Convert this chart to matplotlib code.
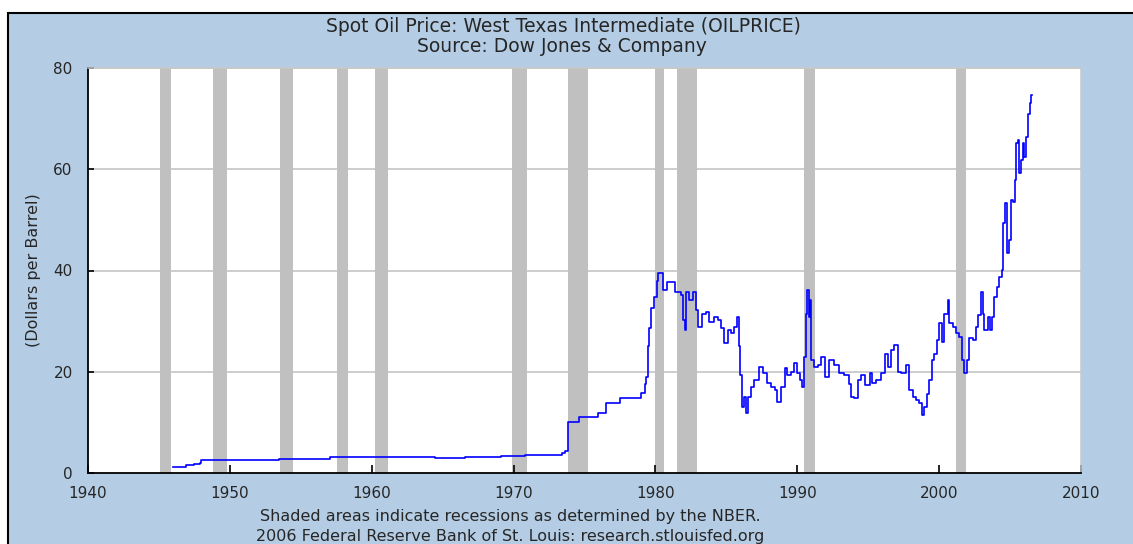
import matplotlib
matplotlib.use("Agg")
import matplotlib.pyplot as plt
from matplotlib.patches import Rectangle

# --- данные (оценка по картинке) ---
years = [1946.0, 1946.55, 1946.9, 1947.25, 1947.5, 1947.9, 1948.0, 1953.45, 1957.05,
         1964.45, 1966.6, 1969.1, 1970.8, 1973.4, 1973.6, 1973.85, 1974.6, 1975.95,
         1976.55, 1977.5, 1979.0, 1979.25, 1979.35, 1979.45, 1979.55, 1979.7, 1979.9,
         1980.1, 1980.15, 1980.5, 1980.85, 1981.4, 1981.8, 1981.93, 1982.05, 1982.17,
         1982.4, 1982.62, 1982.87, 1983.03, 1983.3, 1983.6, 1983.8, 1984.15, 1984.4,
         1984.62, 1984.85, 1985.1, 1985.35, 1985.55, 1985.75, 1985.88, 1985.97, 1986.08,
         1986.25, 1986.4, 1986.55, 1986.75, 1986.95, 1987.3, 1987.55, 1987.9, 1988.15,
         1988.4, 1988.6, 1988.85, 1989.1, 1989.3, 1989.55, 1989.8, 1990.0, 1990.2,
         1990.35, 1990.45, 1990.6, 1990.72, 1990.8, 1990.88, 1991.0, 1991.2, 1991.45,
         1991.7, 1991.92, 1992.25, 1992.6, 1992.95, 1993.3, 1993.65, 1993.8, 1994.0,
         1994.25, 1994.5, 1994.75, 1995.1, 1995.3, 1995.55, 1995.9, 1996.15, 1996.38,
         1996.62, 1996.85, 1997.08, 1997.3, 1997.65, 1997.9, 1998.15, 1998.38, 1998.6,
         1998.8, 1998.96, 1999.12, 1999.3, 1999.48, 1999.65, 1999.83, 2000.02, 2000.2,
         2000.37, 2000.6, 2000.73, 2000.95, 2001.2, 2001.43, 2001.62, 2001.78, 2001.95,
         2002.13, 2002.37, 2002.6, 2002.77, 2002.96, 2003.07, 2003.19, 2003.43, 2003.55,
         2003.74, 2003.9, 2004.06, 2004.25, 2004.42, 2004.53, 2004.65, 2004.77, 2004.9,
         2005.07, 2005.23, 2005.36, 2005.43, 2005.54, 2005.66, 2005.78, 2005.9, 2006.01,
         2006.13, 2006.25, 2006.37, 2006.48, 2006.55]
prices = [1.17, 1.27, 1.52, 1.62, 1.87, 2.07, 2.57, 2.82, 3.07,
          2.92, 3.07, 3.35, 3.56, 3.87, 4.31, 10.11, 11.16, 11.9,
          13.9, 14.85, 15.85, 17.5, 19.0, 25.0, 28.6, 32.5, 34.8,
          38.0, 39.5, 36.1, 37.8, 35.8, 35.2, 30.2, 28.2, 35.8,
          34.2, 35.8, 32.2, 28.9, 31.5, 31.9, 29.9, 30.9, 30.2,
          28.6, 25.6, 28.2, 27.6, 28.9, 30.9, 25.0, 19.4, 13.1,
          15.1, 11.8, 15.1, 17.0, 18.4, 21.0, 19.7, 17.7, 17.0,
          16.4, 14.1, 17.0, 20.7, 19.4, 20.0, 21.7, 19.7, 18.4,
          17.0, 23.0, 31.5, 36.1, 30.9, 34.2, 22.3, 21.0, 21.3,
          23.0, 19.0, 22.3, 21.3, 19.7, 19.4, 17.5, 15.1, 14.8,
          18.4, 19.4, 17.4, 19.7, 17.7, 18.4, 19.7, 23.6, 21.0,
          24.3, 25.3, 20.0, 19.7, 21.3, 16.4, 15.1, 14.4, 13.8,
          11.5, 13.1, 15.7, 18.4, 22.3, 23.6, 26.3, 29.6, 25.9,
          31.5, 34.2, 29.6, 28.9, 27.6, 26.9, 22.3, 19.7, 22.3,
          26.6, 26.3, 28.9, 31.2, 35.8, 31.5, 28.2, 30.9, 28.2,
          30.9, 34.8, 36.8, 38.8, 40.1, 49.3, 53.3, 43.4, 46.0,
          53.9, 53.5, 57.9, 65.1, 65.8, 59.2, 61.8, 65.1, 62.5,
          66.4, 71.0, 73.0, 74.7, 74.7]

# рецессии NBER (начало, конец)
rec_start = [1945.08, 1948.83, 1953.5, 1957.58, 1960.25, 1969.92, 1973.83,
             1980.0, 1981.5, 1990.5, 2001.17]
rec_end = [1945.83, 1949.83, 1954.42, 1958.33, 1961.17, 1970.92, 1975.25,
           1980.58, 1982.92, 1991.25, 2001.92]

x_ticks = [1940, 1950, 1960, 1970, 1980, 1990, 2000, 2010]
y_ticks = [0, 20, 40, 60, 80]

bg = "#b4cde4"
txt = "#262626"

fig = plt.figure(figsize=(11.33, 5.44), dpi=100)
fig.patch.set_facecolor("white")
fig.patches.append(Rectangle((8 / 1133, -0.05), 1.05, (544 - 13) / 544 + 0.05,
                             transform=fig.transFigure, facecolor=bg,
                             edgecolor="black", linewidth=1.5, zorder=-10))

ax = fig.add_axes([88 / 1133, 71 / 544, 993 / 1133, 405 / 544])
ax.set_facecolor("white")

for s, e in zip(rec_start, rec_end):
    ax.axvspan(s, e, color="#c0c0c0", lw=0, zorder=1)

for v in y_ticks[1:]:
    ax.axhline(v, color="#c0c0c0", lw=1.1, zorder=0.5)

ax.step(years, prices, where="post", color="#0000ff", lw=1.2, zorder=3)

ax.set_xlim(1940, 2010)
ax.set_ylim(0, 80)
ax.set_xticks(x_ticks)
ax.set_yticks(y_ticks)
ax.tick_params(axis="x", direction="in", length=6, width=1.2, pad=9,
               labelsize=11, labelcolor=txt)
ax.tick_params(axis="y", direction="in", length=4, width=1.2, pad=11,
               labelsize=11, labelcolor=txt)

for side in ["left", "bottom"]:
    ax.spines[side].set_color("black")
    ax.spines[side].set_linewidth(1.3)
for side in ["top", "right"]:
    ax.spines[side].set_color("#c8c8c8")
    ax.spines[side].set_linewidth(1.1)

ax.set_ylabel("(Dollars per Barrel)", fontsize=11.5, color=txt)
ax.yaxis.set_label_coords(-47 / 993, 0.5)

fig.text(563 / 1133, 1 - 26 / 544, "Spot Oil Price: West Texas Intermediate (OILPRICE)",
         ha="center", va="center", fontsize=13.5, color=txt)
fig.text(562 / 1133, 1 - 47 / 544, "Source: Dow Jones & Company",
         ha="center", va="center", fontsize=13.5, color=txt)
fig.text(510 / 1133, 1 - 516 / 544, "Shaded areas indicate recessions as determined by the NBER.",
         ha="center", va="center", fontsize=11.5, color=txt)
fig.text(510 / 1133, 1 - 536 / 544, "2006 Federal Reserve Bank of St. Louis: research.stlouisfed.org",
         ha="center", va="center", fontsize=11.5, color=txt)

plt.savefig("out.png", dpi=100, facecolor=fig.get_facecolor())
print("saved out.png")
